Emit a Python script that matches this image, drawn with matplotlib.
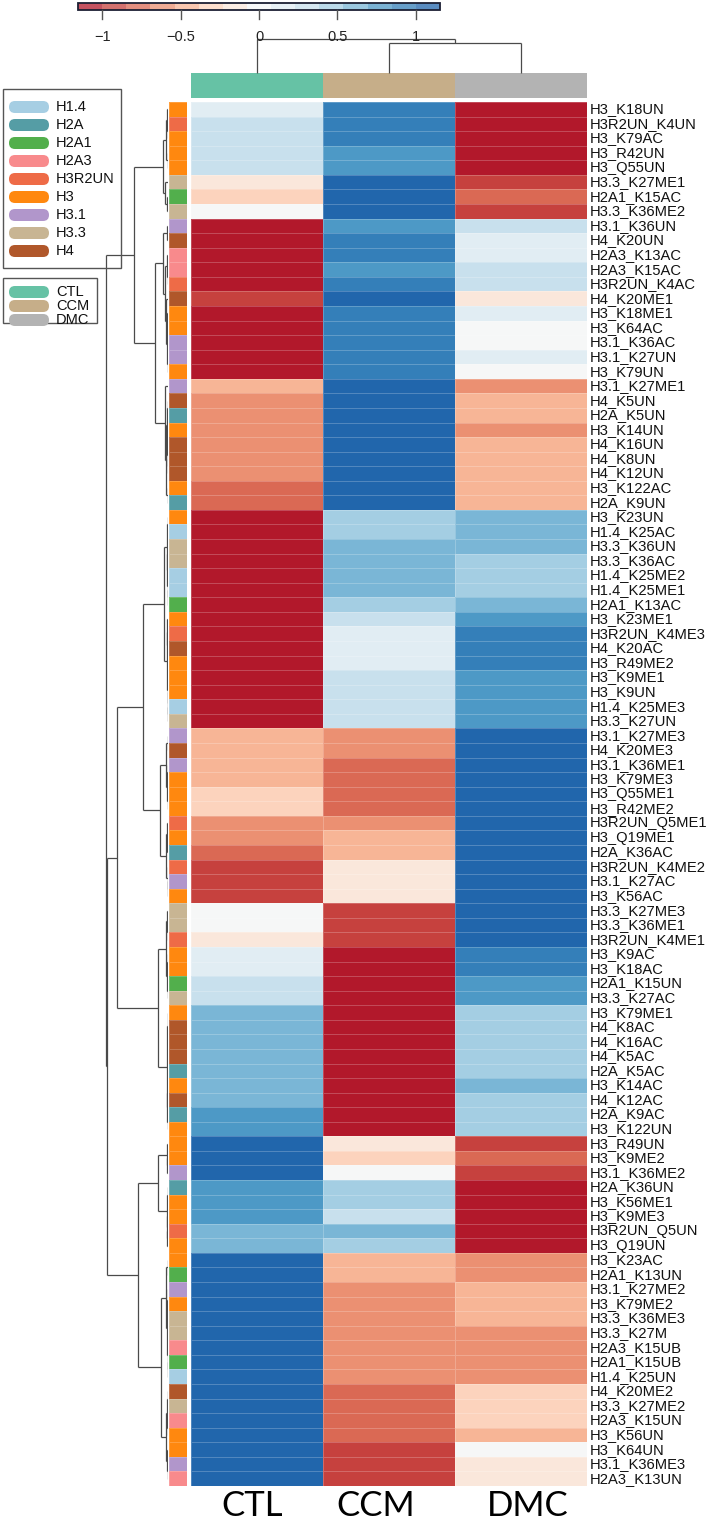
import matplotlib
matplotlib.use("Agg")
import matplotlib.pyplot as plt
import numpy as np
from matplotlib.colors import ListedColormap, BoundaryNorm, LinearSegmentedColormap
from matplotlib.patches import FancyBboxPatch, Rectangle
from matplotlib.collections import LineCollection

# ---------------- data ----------------
row_labels = [
    "H3_K18UN", "H3R2UN_K4UN", "H3_K79AC", "H3_R42UN", "H3_Q55UN", "H3.3_K27ME1", "H2A1_K15AC", "H3.3_K36ME2",
    "H3.1_K36UN", "H4_K20UN", "H2A3_K13AC", "H2A3_K15AC", "H3R2UN_K4AC", "H4_K20ME1", "H3_K18ME1", "H3_K64AC",
    "H3.1_K36AC", "H3.1_K27UN", "H3_K79UN", "H3.1_K27ME1", "H4_K5UN", "H2A_K5UN", "H3_K14UN", "H4_K16UN",
    "H4_K8UN", "H4_K12UN", "H3_K122AC", "H2A_K9UN", "H3_K23UN", "H1.4_K25AC", "H3.3_K36UN", "H3.3_K36AC",
    "H1.4_K25ME2", "H1.4_K25ME1", "H2A1_K13AC", "H3_K23ME1", "H3R2UN_K4ME3", "H4_K20AC", "H3_R49ME2", "H3_K9ME1",
    "H3_K9UN", "H1.4_K25ME3", "H3.3_K27UN", "H3.1_K27ME3", "H4_K20ME3", "H3.1_K36ME1", "H3_K79ME3", "H3_Q55ME1",
    "H3_R42ME2", "H3R2UN_Q5ME1", "H3_Q19ME1", "H2A_K36AC", "H3R2UN_K4ME2", "H3.1_K27AC", "H3_K56AC", "H3.3_K27ME3",
    "H3.3_K36ME1", "H3R2UN_K4ME1", "H3_K9AC", "H3_K18AC", "H2A1_K15UN", "H3.3_K27AC", "H3_K79ME1", "H4_K8AC",
    "H4_K16AC", "H4_K5AC", "H2A_K5AC", "H3_K14AC", "H4_K12AC", "H2A_K9AC", "H3_K122UN", "H3_R49UN",
    "H3_K9ME2", "H3.1_K36ME2", "H2A_K36UN", "H3_K56ME1", "H3_K9ME3", "H3R2UN_Q5UN", "H3_Q19UN", "H3_K23AC",
    "H2A1_K13UN", "H3.1_K27ME2", "H3_K79ME2", "H3.3_K36ME3", "H3.3_K27M", "H2A3_K15UB", "H2A1_K15UB", "H1.4_K25UN",
    "H4_K20ME2", "H3.3_K27ME2", "H2A3_K15UN", "H3_K56UN", "H3_K64UN", "H3.1_K36ME3", "H2A3_K13UN",
]

col_labels = ["CTL", "CCM", "DMC"]

ctl = [0.15, 0.30, 0.30, 0.30, 0.30, -0.15, -0.31, 0.00,
       -1.10, -1.10, -1.10, -1.10, -1.10, -0.93, -1.10, -1.10, -1.10, -1.10, -1.10,
       -0.46, -0.62, -0.62, -0.62, -0.62, -0.62, -0.62, -0.77, -0.77,
       -1.10, -1.10, -1.10, -1.10, -1.10, -1.10, -1.10, -1.10, -1.10, -1.10, -1.10, -1.10, -1.10, -1.10, -1.10,
       -0.46, -0.46, -0.46, -0.46, -0.31, -0.31, -0.62, -0.62, -0.77, -0.93, -0.93, -0.93,
       0.00, 0.00, -0.15, 0.15, 0.15, 0.30, 0.30, 0.62, 0.62, 0.62, 0.62, 0.62, 0.62, 0.62, 0.77, 0.77,
       1.10, 1.10, 1.10, 0.77, 0.77, 0.77, 0.62, 0.62,
       1.10, 1.10, 1.10, 1.10, 1.10, 1.10, 1.10, 1.10, 1.10, 1.10, 1.10, 1.10, 1.10, 1.10, 1.10, 1.10]

ccm = [0.92, 0.92, 0.92, 0.77, 0.77, 1.10, 1.10, 1.10,
       0.77, 0.92, 0.92, 0.77, 0.92, 1.10, 0.92, 0.92, 0.92, 0.92, 0.92,
       1.10, 1.10, 1.10, 1.10, 1.10, 1.10, 1.10, 1.10, 1.10,
       0.46, 0.46, 0.62, 0.62, 0.62, 0.62, 0.46, 0.30, 0.15, 0.15, 0.15, 0.30, 0.30, 0.30, 0.30,
       -0.62, -0.62, -0.77, -0.77, -0.77, -0.77, -0.62, -0.46, -0.46, -0.15, -0.15, -0.15,
       -0.93, -0.93, -0.93, -1.10, -1.10, -1.10, -1.10, -1.10, -1.10, -1.10, -1.10, -1.10, -1.10, -1.10, -1.10, -1.10,
       -0.15, -0.31, 0.00, 0.46, 0.46, 0.30, 0.62, 0.46,
       -0.46, -0.46, -0.62, -0.62, -0.62, -0.62, -0.62, -0.62, -0.62, -0.77, -0.77, -0.77, -0.77, -0.93, -0.93, -0.93]

dmc = [-1.10, -1.10, -1.10, -1.10, -1.10, -0.93, -0.77, -0.93,
       0.30, 0.15, 0.15, 0.30, 0.30, -0.15, 0.15, 0.00, 0.00, 0.15, 0.00,
       -0.62, -0.46, -0.46, -0.62, -0.46, -0.46, -0.46, -0.46, -0.46,
       0.62, 0.62, 0.62, 0.46, 0.46, 0.46, 0.62, 0.77, 0.92, 0.92, 0.92, 0.77, 0.77, 0.77, 0.77,
       1.10, 1.10, 1.10, 1.10, 1.10, 1.10, 1.10, 1.10, 1.10, 1.10, 1.10, 1.10,
       1.10, 1.10, 1.10, 0.92, 0.92, 0.77, 0.77, 0.46, 0.46, 0.46, 0.46, 0.46, 0.62, 0.46, 0.46, 0.46,
       -0.93, -0.77, -0.93, -1.10, -1.10, -1.10, -1.10, -1.10,
       -0.62, -0.62, -0.46, -0.46, -0.46, -0.62, -0.62, -0.62, -0.62, -0.31, -0.31, -0.31, -0.46, 0.00, -0.15, -0.15]

group_names = ["H1.4", "H2A", "H2A1", "H2A3", "H3R2UN", "H3", "H3.1", "H3.3", "H4"]
group_colors = ["#A6CEE3", "#559DA5", "#52AF4C", "#F88A8C", "#EE6B47", "#FF880F", "#B196CB", "#C8B593", "#B0572A"]
col_colors = ["#66C2A5", "#C6AE89", "#B3B3B3"]

# row dendrogram: (left, right, height); leaves = row index
A1 = ((0, (1, 2, 0.3), 1.0), (3, 4, 0.4), 2.5)
A2 = (5, (6, 7, 1.5), 3.5)
A = (A1, A2, 5.5)
B1 = ((8, 9, 1.5), ((10, (11, 12, 0.5), 1.0), (13, ((14, (15, 16, 0.3), 0.6), (17, 18, 0.4), 0.9), 1.7), 2.8), 5.0)
B2 = (19, (((20, 21, 0.3), (22, (23, (24, 25, 0.2), 0.4), 0.7), 1.0), (26, 27, 0.4), 1.8), 3.2)
B = (B1, B2, 13.0)
AB = (A, B, 34.0)
C1a = (((28, 29, 0.3), ((30, 31, 0.5), (32, (33, 34, 0.3), 0.5), 0.8), 1.3),
       ((35, (36, (37, 38, 0.2), 0.4), 0.9), (39, (40, (41, 42, 0.2), 0.3), 0.5), 1.3), 4.0)
C1b = (((43, 44, 0.5), ((45, 46, 0.3), (47, 48, 0.3), 0.8), 1.6),
       ((49, (50, 51, 0.6), 1.0), (52, (53, 54, 0.2), 0.4), 2.0), 8.0)
C1 = (C1a, C1b, 25.0)
C2a = ((55, (56, 57, 0.4), 0.7), ((58, 59, 0.3), (60, 61, 0.3), 0.9), 2.5)
C2b = ((62, (63, (64, (65, 66, 0.2), 0.3), 0.4), 0.5), ((67, 68, 0.4), (69, 70, 0.3), 0.8), 1.5)
C2 = (C2a, C2b, 10.0)
C = (C1, C2, 51.0)
D1 = ((71, (72, 73, 0.8), 1.5), ((74, 75, 0.3), (76, (77, 78, 0.6), 0.9), 1.5), 10.0)
D2a = ((79, 80, 0.4), ((81, (82, 83, 0.3), 0.5), ((84, 85, 0.2), (86, 87, 0.2), 0.4), 0.8), 2.5)
D2b = (((88, 89, 0.3), (90, 91, 0.5), 0.9), (92, (93, 94, 0.3), 1.0), 2.5)
D2 = (D2a, D2b, 7.0)
D = (D1, D2, 30.0)
CD = (C, D, 61.0)
row_tree = (AB, CD, 62.0)

col_tree = (0, (1, 2, 29.0), 33.0)

# ---------------- figure ----------------
W, H = 709, 1521
fig = plt.figure(figsize=(W / 100, H / 100), dpi=100)

def ax_px(x0, y0, x1, y1):
    a = fig.add_axes([x0 / W, 1 - y1 / H, (x1 - x0) / W, (y1 - y0) / H])
    a.set_axis_off()
    return a

anchors = ["#B2182B", "#D6604D", "#F4A582", "#FDDBC7", "#F7F7F7", "#D1E5F0", "#92C5DE", "#4393C3", "#2166AC"]
base = LinearSegmentedColormap.from_list("rdbu", anchors)
ncol = 15
vmax = 1.155
pal = [base(i / (ncol - 1)) for i in range(ncol)]
cmap = ListedColormap(pal)
bounds = np.linspace(-vmax, vmax, ncol + 1)
norm = BoundaryNorm(bounds, ncol)

data = np.column_stack([ctl, ccm, dmc])
nrow = data.shape[0]

HX0, HX1, HY0, HY1 = 191, 587, 102, 1486

# heatmap
axh = ax_px(HX0, HY0, HX1, HY1)
axh.pcolormesh(np.arange(4), np.arange(nrow + 1), data, cmap=cmap, norm=norm,
               edgecolors=(1, 1, 1, 0.22), linewidth=0.5)
axh.set_xlim(0, 3)
axh.set_ylim(nrow, 0)
for i, lab in enumerate(row_labels):
    axh.text(3.02, i + 0.5, lab, ha="left", va="center", fontsize=10.6,
             family="Liberation Sans", color="#111111")
label_x = [0.46, 1.40, 2.55]
for x, lab in zip(label_x, col_labels):
    axh.text(x, nrow + 1.35, lab, ha="center", va="center", fontsize=25,
             family="Lato", color="black")

# row annotation strip
axs = ax_px(169, HY0, 187, HY1)
gidx = np.array([group_names.index(l.split("_")[0]) for l in row_labels]).reshape(-1, 1)
axs.pcolormesh(np.arange(2), np.arange(nrow + 1), gidx, cmap=ListedColormap(group_colors),
               vmin=-0.5, vmax=len(group_names) - 0.5, edgecolors=(1, 1, 1, 0.2), linewidth=0.4)
axs.set_xlim(0, 1)
axs.set_ylim(nrow, 0)

# column side colours
axc = ax_px(HX0, 73.3, HX1, 98.3)
axc.pcolormesh(np.arange(4), np.arange(2), np.array([[0, 1, 2]]), cmap=ListedColormap(col_colors),
               vmin=-0.5, vmax=2.5)
axc.set_xlim(0, 3)
axc.set_ylim(0, 1)

# dendrograms
def build(node, segs):
    if isinstance(node, int):
        return node + 0.5, 0.0
    l, r, h = node
    pl, hl = build(l, segs)
    pr, hr = build(r, segs)
    segs.append([(hl, pl), (h, pl)])
    segs.append([(h, pl), (h, pr)])
    segs.append([(h, pr), (hr, pr)])
    return (pl + pr) / 2, h

rsegs = []
build(row_tree, rsegs)
axd = ax_px(100, HY0, 168, HY1)
axd.add_collection(LineCollection(rsegs, colors="#4a4a4a", linewidths=0.9))
axd.set_xlim(68, 0)
axd.set_ylim(nrow, 0)

csegs = []
build(col_tree, csegs)
csegs = [[(p, h) for (h, p) in s] for s in csegs]
axcd = ax_px(HX0, 39, HX1, 72.5)
axcd.add_collection(LineCollection(csegs, colors="#4a4a4a", linewidths=0.9, clip_on=False))
axcd.set_xlim(0, 3)
axcd.set_ylim(0, 33)

# colour key
axk = ax_px(78, 2.7, 440, 10.2)
axk.pcolormesh(bounds, [0, 1], np.array([(bounds[:-1] + bounds[1:]) / 2]), cmap=cmap, norm=norm, alpha=0.75)
axk.set_xlim(-vmax, vmax)
axk.set_ylim(0, 1)
axk.add_patch(Rectangle((-vmax, 0), 2 * vmax, 1, fill=False, edgecolor="#1b1f33", linewidth=1.3, clip_on=False))

# overlay in pixel coordinates
ov = fig.add_axes([0, 0, 1, 1])
ov.set_xlim(0, W)
ov.set_ylim(H, 0)
ov.set_axis_off()
ov.patch.set_alpha(0)

ticks = [-1, -0.5, 0, 0.5, 1]
tick_txt = ["\u22121", "\u22120.5", "0", "0.5", "1"]
for t, s in zip(ticks, tick_txt):
    xp = 78 + (t + vmax) / (2 * vmax) * (440 - 78)
    ov.plot([xp, xp], [10.2, 19], color="#555555", lw=1)
    ov.text(xp, 37, s, ha="center", va="center", fontsize=10.5, family="Liberation Sans", color="#222222")

# legends
def legend_box(x0, y0, x1, y1, names, colors, ystart, step):
    ov.add_patch(Rectangle((x0, y0), x1 - x0, y1 - y0, fill=False, edgecolor="#555555", linewidth=1))
    for i, (n, c) in enumerate(zip(names, colors)):
        yc = ystart + i * step
        ov.add_patch(FancyBboxPatch((9, yc - 6), 40, 12, boxstyle="round,pad=0,rounding_size=6",
                                    facecolor=c, edgecolor="none"))
        ov.text(56, yc, n, ha="left", va="center", fontsize=10.5, family="Liberation Sans", color="#111111")

legend_box(3, 89, 121, 268, group_names, group_colors, 107, 18)
legend_box(3, 278, 97, 323, col_labels, col_colors, 292, 14)

fig.savefig("out.png", dpi=100)
